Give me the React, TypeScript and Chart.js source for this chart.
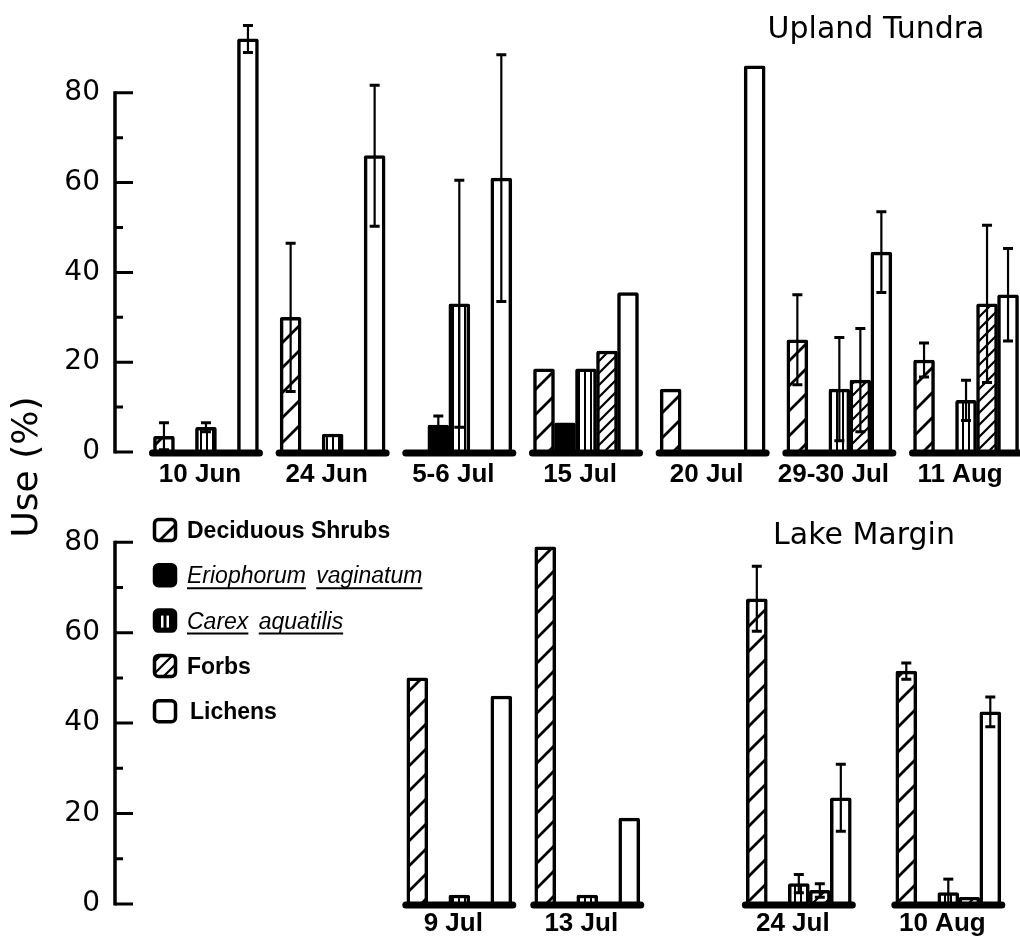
import React, { useEffect, useRef } from 'react';
import { Chart, registerables } from 'chart.js';

Chart.register(...registerables);

// ---------------- data ----------------
const seriesNames = ['Deciduous Shrubs', 'Eriophorum vaginatum', 'Carex aquatilis', 'Forbs', 'Lichens'];
const yTickValues = [0, 20, 40, 60, 80];

// Upland Tundra panel
const uplandDates = ['10 Jun', '24 Jun', '5-6 Jul', '15 Jul', '20 Jul', '29-30 Jul', '11 Aug'];
const uplandDeciduous = [3.5, 30, 0, 18.5, 14, 25, 20.5];
const uplandEriophorum = [0, 0, 6, 6.5, 0, 0, 0];
const uplandCarex = [5.5, 4, 33, 18.5, 0, 14, 11.5];
const uplandForbs = [0, 0, 0, 22.5, 0, 16, 33];
const uplandLichens = [92, 66, 61, 35.5, 86, 44.5, 35];
const uplandDeciduousErr = [3, 16.5, 0, 0, 0, 10, 3.8];
const uplandEriophorumErr = [0, 0, 2, 0, 0, 0, 0];
const uplandCarexErr = [1, 0, 27.5, 0, 0, 11.5, 4.5];
const uplandForbsErr = [0, 0, 0, 0, 0, 11.5, 17.5];
const uplandLichensErr = [3, 15.7, 27.5, 0, 0, 9, 10.3];

// Lake Margin panel
const lakeDates = ['9 Jul', '13 Jul', '24 Jul', '10 Aug'];
const lakeDeciduous = [50, 79, 67.5, 51.5];
const lakeEriophorum = [0, 0, 0, 0];
const lakeCarex = [2, 2, 4.5, 2.5];
const lakeForbs = [0, 0, 3, 1.5];
const lakeLichens = [46, 19, 23.5, 42.5];
const lakeDeciduousErr = [0, 0, 7.2, 1.8];
const lakeEriophorumErr = [0, 0, 0, 0];
const lakeCarexErr = [0, 0, 2, 3];
const lakeForbsErr = [0, 0, 1.5, 0];
const lakeLichensErr = [0, 0, 7.4, 3.3];

// ---------------- layout ----------------
const W = 1020;
const H = 945;
const X_MIN = -0.718;
const X_MAX = 6.426;
const uplandSlots = [0, 1, 2, 3, 4, 5, 6];
const lakeSlots = [2, 3.01, 4.68, 5.86];
const BAR_W = 21;

type Pats = { dec: any; eri: any; car: any; forb: any; lich: any };

function makePatterns(): Pats {
  const mk = (w: number, h: number, draw: (g: CanvasRenderingContext2D) => void) => {
    const c = document.createElement('canvas');
    c.width = w;
    c.height = h;
    const g = c.getContext('2d') as CanvasRenderingContext2D;
    g.fillStyle = '#fff';
    g.fillRect(0, 0, w, h);
    g.strokeStyle = '#000';
    g.fillStyle = '#000';
    draw(g);
    return g.createPattern(c, 'repeat');
  };
  const diag = (p: number, lw: number) =>
    mk(p, p, (g) => {
      g.lineWidth = lw;
      g.beginPath();
      for (const cc of [0, p, 2 * p]) {
        g.moveTo(cc + 3, -3);
        g.lineTo(cc - p - 3, p + 3);
      }
      g.stroke();
    });
  return {
    dec: diag(25, 2.8),
    eri: '#000',
    car: mk(6, 6, (g) => g.fillRect(2, 0, 2, 6)),
    forb: diag(12, 2.2),
    lich: '#fff',
  };
}

function buildDatasets(slots: number[], series: number[][], pats: Pats) {
  const fills = [pats.dec, pats.eri, pats.car, pats.forb, pats.lich];
  return series.map((vals, k) => ({
    label: seriesNames[k],
    data: slots.map((s, i) => ({ x: s, y: vals[i] })),
    backgroundColor: fills[k],
    borderColor: '#000',
    borderWidth: 3.5,
    borderSkipped: 'start',
    borderRadius: 2,
    barThickness: BAR_W,
  }));
}

const axisPlugin = {
  id: 'useAxis',
  afterDraw(chart: any) {
    const ctx = chart.ctx;
    const y = chart.scales.y;
    const x0 = chart.chartArea.left;
    ctx.save();
    ctx.strokeStyle = '#000';
    ctx.lineWidth = 3.5;
    ctx.beginPath();
    ctx.moveTo(x0, y.getPixelForValue(0) + 1.5);
    ctx.lineTo(x0, y.getPixelForValue(80) - 1.5);
    ctx.stroke();
    ctx.lineWidth = 3;
    ctx.beginPath();
    for (let v = 0; v <= 80; v += 10) {
      const py = y.getPixelForValue(v);
      ctx.moveTo(x0, py);
      ctx.lineTo(x0 + (v % 20 === 0 ? 18 : 8), py);
    }
    ctx.stroke();
    ctx.restore();
  },
};

const groupBaselinePlugin = {
  id: 'groupBaseline',
  afterDatasetsDraw(chart: any) {
    const ctx = chart.ctx;
    const m0 = chart.getDatasetMeta(0);
    const m4 = chart.getDatasetMeta(4);
    const y0 = chart.scales.y.getPixelForValue(0) + 1;
    ctx.save();
    ctx.strokeStyle = '#000';
    ctx.lineWidth = 7;
    ctx.lineCap = 'round';
    m0.data.forEach((el: any, j: number) => {
      const e4 = m4.data[j];
      ctx.beginPath();
      ctx.moveTo(el.x - el.width / 2 - 1, y0);
      ctx.lineTo(e4.x + e4.width / 2 + 1, y0);
      ctx.stroke();
    });
    ctx.restore();
  },
};

function makeErrorPlugin(errors: number[][]) {
  return {
    id: 'errorBars',
    afterDatasetsDraw(chart: any) {
      const ctx = chart.ctx;
      const ys = chart.scales.y;
      ctx.save();
      ctx.strokeStyle = '#000';
      errors.forEach((errs, d) => {
        const meta = chart.getDatasetMeta(d);
        const data = chart.data.datasets[d].data;
        errs.forEach((e, j) => {
          if (!e) return;
          const el = meta.data[j];
          const v = data[j].y;
          const top = ys.getPixelForValue(v + e);
          const lowV = Math.max(0, v - e);
          const bot = ys.getPixelForValue(lowV);
          ctx.lineWidth = 2.2;
          ctx.beginPath();
          ctx.moveTo(el.x, top);
          ctx.lineTo(el.x, bot);
          ctx.stroke();
          ctx.lineWidth = 3;
          ctx.beginPath();
          ctx.moveTo(el.x - 5, top);
          ctx.lineTo(el.x + 5, top);
          if (lowV > 0) {
            ctx.moveTo(el.x - 5, bot);
            ctx.lineTo(el.x + 5, bot);
          }
          ctx.stroke();
        });
      });
      ctx.restore();
    },
  };
}

function makeTitlePlugin(text: string, cx: number, by: number) {
  return {
    id: 'panelTitle',
    afterDraw(chart: any) {
      const ctx = chart.ctx;
      ctx.save();
      ctx.fillStyle = '#000';
      ctx.font = '30px "DejaVu Sans"';
      ctx.textAlign = 'center';
      ctx.textBaseline = 'alphabetic';
      ctx.fillText(text, cx, by);
      ctx.restore();
    },
  };
}

function makeLegendPlugin(pats: Pats) {
  return {
    id: 'customLegend',
    afterDraw(chart: any) {
      const ctx = chart.ctx;
      const fills = [pats.dec, pats.eri, pats.car, pats.forb, pats.lich];
      const italic = [false, true, true, false, false];
      const lx = 153;
      const ly0 = 530;
      const dy = 45.3;
      ctx.save();
      seriesNames.forEach((name, i) => {
        const cy = ly0 + i * dy;
        const bx = lx;
        const by = cy - 12;
        ctx.beginPath();
        ctx.roundRect(bx + 1.5, by + 1.5, 21, 21, 4);
        if (i === 2) {
          ctx.fillStyle = '#000';
          ctx.fill();
          ctx.fillStyle = '#fff';
          ctx.fillRect(bx + 8, by + 7, 2.5, 12);
          ctx.fillRect(bx + 13.5, by + 7, 2.5, 12);
        } else {
          ctx.fillStyle = fills[i];
          ctx.fill();
        }
        ctx.lineWidth = 3.5;
        ctx.strokeStyle = '#000';
        ctx.beginPath();
        ctx.roundRect(bx + 1.5, by + 1.5, 21, 21, 4);
        ctx.stroke();

        ctx.fillStyle = '#000';
        ctx.textAlign = 'left';
        ctx.textBaseline = 'alphabetic';
        const tx = i === 4 ? 190 : 187;
        const ty = cy + 8;
        if (italic[i]) {
          ctx.font = 'italic 23px "Liberation Sans"';
          const words = name.split(' ');
          let x = tx;
          words.forEach((w) => {
            ctx.fillText(w, x, ty);
            const ww = ctx.measureText(w).width;
            ctx.lineWidth = 2;
            ctx.beginPath();
            ctx.moveTo(x, ty + 5);
            ctx.lineTo(x + ww, ty + 5);
            ctx.stroke();
            x += ww + ctx.measureText(' ').width + 4;
          });
        } else {
          ctx.font = 'bold 23px "Liberation Sans"';
          ctx.fillText(name, tx, ty);
        }
      });
      ctx.restore();
    },
  };
}

const yLabelPlugin = {
  id: 'useLabel',
  afterDraw(chart: any) {
    const ctx = chart.ctx;
    ctx.save();
    ctx.translate(28, 467);
    ctx.rotate(-Math.PI / 2);
    ctx.fillStyle = '#000';
    ctx.font = '36px "DejaVu Sans"';
    ctx.textAlign = 'center';
    ctx.textBaseline = 'middle';
    ctx.fillText('Use (%)', 0, 0);
    ctx.restore();
  },
};

function makeConfig(opts: {
  slots: number[];
  dates: string[];
  series: number[][];
  errors: number[][];
  pats: Pats;
  padTop: number;
  padBottom: number;
  xAxisH: number;
  yMax: number;
  labelPad: number;
  extraPlugins: any[];
}) {
  return {
    type: 'bar',
    data: { datasets: buildDatasets(opts.slots, opts.series, opts.pats) },
    options: {
      animation: false,
      responsive: false,
      devicePixelRatio: 1,
      layout: { padding: { top: opts.padTop, bottom: opts.padBottom, left: 0, right: 0 } },
      plugins: { legend: { display: false }, tooltip: { enabled: false } },
      scales: {
        x: {
          type: 'linear',
          min: X_MIN,
          max: X_MAX,
          offset: false,
          grid: { display: false, drawTicks: false },
          border: { display: false },
          afterBuildTicks: (s: any) => {
            s.ticks = opts.slots.map((v) => ({ value: v }));
          },
          afterFit: (s: any) => {
            s.height = opts.xAxisH;
            s.paddingLeft = 0;
            s.paddingRight = 0;
          },
          ticks: {
            autoSkip: false,
            maxRotation: 0,
            minRotation: 0,
            padding: opts.labelPad,
            labelOffset: -6,
            color: '#000',
            font: { family: 'Liberation Sans', weight: 'bold', size: 26 },
            callback: (_v: any, i: number) => opts.dates[i],
          },
        },
        y: {
          min: 0,
          max: opts.yMax,
          grid: { display: false, drawTicks: false },
          border: { display: false },
          afterBuildTicks: (s: any) => {
            s.ticks = yTickValues.map((v) => ({ value: v }));
          },
          afterFit: (s: any) => {
            s.width = 115;
            s.paddingTop = 0;
            s.paddingBottom = 0;
          },
          ticks: { padding: 15, color: '#000', font: { family: 'DejaVu Sans', size: 28 } },
        },
      },
    },
    plugins: [axisPlugin, groupBaselinePlugin, makeErrorPlugin(opts.errors), ...opts.extraPlugins],
  };
}

export default function App() {
  const topRef = useRef<HTMLCanvasElement>(null);
  const botRef = useRef<HTMLCanvasElement>(null);

  useEffect(() => {
    const pats = makePatterns();
    const top = new Chart(
      topRef.current as HTMLCanvasElement,
      makeConfig({
        slots: uplandSlots,
        dates: uplandDates,
        series: [uplandDeciduous, uplandEriophorum, uplandCarex, uplandForbs, uplandLichens],
        errors: [uplandDeciduousErr, uplandEriophorumErr, uplandCarexErr, uplandForbsErr, uplandLichensErr],
        pats,
        padTop: 3,
        padBottom: 451,
        xAxisH: 42,
        yMax: 100,
        labelPad: 7,
        extraPlugins: [makeTitlePlugin('Upland Tundra', 876, 38)],
      }) as any
    );
    const bottom = new Chart(
      botRef.current as HTMLCanvasElement,
      makeConfig({
        slots: lakeSlots,
        dates: lakeDates,
        series: [lakeDeciduous, lakeEriophorum, lakeCarex, lakeForbs, lakeLichens],
        errors: [lakeDeciduousErr, lakeEriophorumErr, lakeCarexErr, lakeForbsErr, lakeLichensErr],
        pats,
        padTop: 497,
        padBottom: 0,
        xAxisH: 41,
        yMax: 90,
        labelPad: 4,
        extraPlugins: [makeTitlePlugin('Lake Margin', 864, 544), makeLegendPlugin(pats), yLabelPlugin],
      }) as any
    );
    return () => {
      top.destroy();
      bottom.destroy();
    };
  }, []);

  return (
    <div style={{ position: 'absolute', left: 0, top: 0, width: W, height: H, background: '#fff' }}>
      <canvas ref={botRef} width={W} height={H} style={{ position: 'absolute', left: 0, top: 0 }} />
      <canvas ref={topRef} width={W} height={H} style={{ position: 'absolute', left: 0, top: 0 }} />
    </div>
  );
}
